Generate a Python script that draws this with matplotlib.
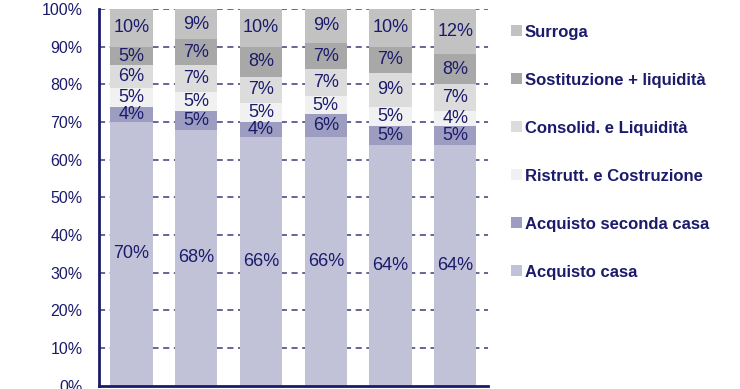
import numpy as np
import matplotlib
matplotlib.use("Agg")
import matplotlib.pyplot as plt

plt.rcParams['font.family'] = ['Liberation Sans', 'DejaVu Sans']

# dati (quote %, dal basso verso l'alto)
categorie = ['Acquisto casa', 'Acquisto seconda casa', 'Ristrutt. e Costruzione',
             'Consolid. e Liquidità', 'Sostituzione + liquidità', 'Surroga']
acquisto_casa = [70, 68, 66, 66, 64, 64]
seconda_casa = [4, 5, 4, 6, 5, 5]
ristrutt = [5, 5, 5, 5, 5, 4]
consolid = [6, 7, 7, 7, 9, 7]
sostituzione = [5, 7, 8, 7, 7, 8]
surroga = [10, 9, 10, 9, 10, 12]
tick_y = [0, 10, 20, 30, 40, 50, 60, 70, 80, 90, 100]

serie = [acquisto_casa, seconda_casa, ristrutt, consolid, sostituzione, surroga]
colori = ['#C1C1D7', '#9D9DC1', '#F1F1F1', '#DCDCDC', '#A8A8A8', '#C2C2C2']
navy = '#1B1B6B'

fig = plt.figure(figsize=(7.4, 3.89), dpi=100)
ax = fig.add_axes([0.134, 0.008, 0.525, 0.969])

x = np.arange(len(acquisto_casa))
base = np.zeros(len(x))
for nome, vals, col in zip(categorie, serie, colori):
    vals = np.array(vals, dtype=float)
    ax.bar(x, vals, bottom=base, width=0.65, color=col, label=nome, zorder=2)
    for xi, b, v in zip(x, base, vals):
        top = min(b + v, 100)
        ax.text(xi, (b + top) / 2, f'{int(v)}%', ha='center', va='center',
                fontsize=13, color=navy, zorder=3)
    base += vals

ax.set_xlim(-0.5, 5.5)
ax.set_ylim(0, 100)
ax.set_yticks(tick_y)
ax.set_yticklabels([f'{t}%' for t in tick_y], fontsize=11.5, color=navy)
ax.set_xticks([])
ax.tick_params(axis='y', length=0, pad=12)
for t in tick_y[1:]:
    ax.axhline(t, color='#3A3A7A', lw=1.1, ls=(0, (4, 3)), zorder=1)

for s in ['top', 'right']:
    ax.spines[s].set_visible(False)
ax.spines['left'].set_color(navy)
ax.spines['left'].set_linewidth(2)
ax.spines['bottom'].set_color(navy)
ax.spines['bottom'].set_linewidth(2)

# legenda
h, l = ax.get_legend_handles_labels()
leg = fig.legend(h[::-1], l[::-1], loc='upper left', bbox_to_anchor=(0.67, 0.975),
                 frameon=False, handlelength=0.65, handleheight=0.65, handletextpad=0.2,
                 labelspacing=1.98, prop={'size': 12, 'weight': 'bold'})
for t in leg.get_texts():
    t.set_color(navy)

fig.savefig('out.png', dpi=100)
